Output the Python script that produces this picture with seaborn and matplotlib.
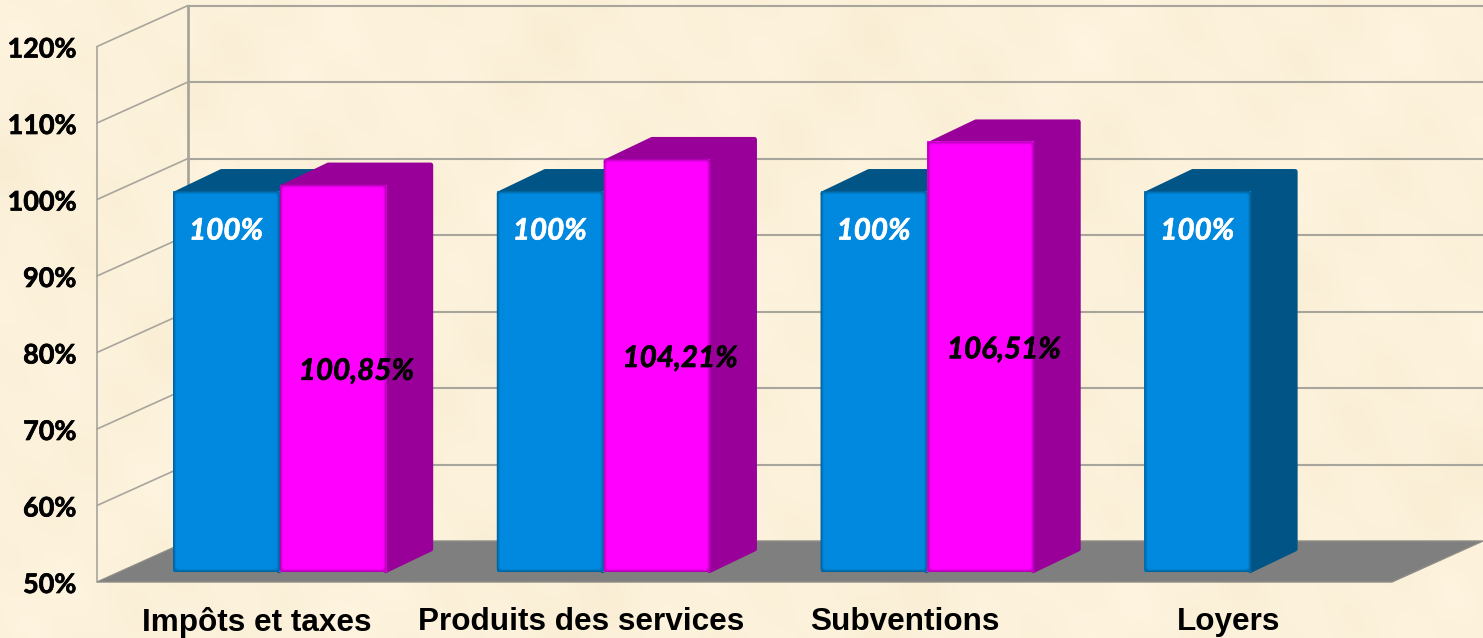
import numpy as np
import pandas as pd
import matplotlib
matplotlib.use("Agg")
import matplotlib.pyplot as plt
import matplotlib.patheffects as pe
import seaborn as sns
from matplotlib.patches import FancyBboxPatch, Polygon, Rectangle
from matplotlib.transforms import Affine2D, IdentityTransform
from matplotlib.colors import to_rgb

categories = ["Impôts et taxes", "Produits des services", "Subventions", "Loyers"]
series_names = ["Référence", "Réalisé"]
reference_values = [100, 100, 100, 100]
realised_values = [100.85, 104.21, 106.51, np.nan]
y_ticks = [50, 60, 70, 80, 90, 100, 110, 120]

BLUE, BLUE_DARK = "#0089DE", "#005586"
MAG, MAG_DARK = "#FF00FF", "#990099"
GRID = "#A8A59C"
W, H = 1483, 638

sns.set_theme(style="white")
plt.rcParams["font.family"] = ["Liberation Sans", "DejaVu Sans"]

fig = plt.figure(figsize=(W / 100, H / 100), dpi=100)

# parchment background (deterministic texture, not data)
bg = fig.add_axes([0, 0, 1, 1], zorder=0)
bg.axis("off")
yy, xx = np.mgrid[0:H // 4, 0:W // 4]
tex = (np.sin(xx * 0.071 + 1.3) * np.sin(yy * 0.093 + 0.4)
       + 0.7 * np.sin(xx * 0.163 + yy * 0.121)
       + 0.5 * np.sin(xx * 0.311 - yy * 0.257 + 2.1)
       + 0.4 * np.sin(xx * 0.027 - yy * 0.041))
tex = tex / np.abs(tex).max()
base = np.array([252, 241, 218], float)
amp = np.array([2.5, 3.5, 6.0])
img = np.clip(base[None, None, :] + tex[..., None] * amp, 0, 255) / 255
bg.imshow(img, aspect="auto", interpolation="bicubic")

# front plane of the chart
L, R, B, T = 97, 1392, 582, 46.5
ax = fig.add_axes([L / W, (H - B) / H, (R - L) / W, (B - T) / H], zorder=1)
ax.patch.set_alpha(0)

df = pd.DataFrame({
    "categorie": categories * 2,
    "serie": [series_names[0]] * 4 + [series_names[1]] * 4,
    "valeur": reference_values + realised_values,
})
sns.barplot(data=df, x="categorie", y="valeur", hue="serie", hue_order=series_names,
            palette=[BLUE, MAG], width=0.66, gap=0, saturation=1, legend=False,
            errorbar=None, ax=ax, order=categories)
ax.set_ylim(50, 120)
ax.set_xlim(-0.5, 3.5)
ax.set_yticks(y_ticks)
ax.set_yticklabels([f"{t}%" for t in y_ticks], family=["Lato", "DejaVu Sans"],
                   fontweight="bold", fontsize=19.4, color="black")
ax.set_xticks(range(len(categories)))
ax.set_xticklabels(categories, fontweight="bold", fontsize=22.7, color="black")
ax.tick_params(axis="y", length=0, pad=15)
ax.tick_params(axis="x", length=0, pad=18)
for lab in ax.get_xticklabels():
    lab.set_transform(lab.get_transform() + Affine2D().translate(-2, 0))
for lab in ax.get_yticklabels():
    lab.set_transform(lab.get_transform() + Affine2D().translate(0, -1))
    lab.set_path_effects([pe.withStroke(linewidth=0.5, foreground="black")])
ax.set_xlabel("")
ax.set_ylabel("")
sns.despine(ax=ax, left=True, bottom=True)
fig.canvas.draw()

to_px = ax.transData.transform
ident = IdentityTransform()
WALL_DX, WALL_DY = 91, 41

# walls and floor
p0, p1 = to_px((-0.5, 50)), to_px((3.5, 50))
wall = ax.transData + Affine2D().translate(WALL_DX, WALL_DY)
bars = [p for p in ax.patches if isinstance(p, Rectangle)
        and p.get_width() > 0 and np.isfinite(p.get_height()) and p.get_height() > 0]
bars.sort(key=lambda b: b.get_x())

ax.add_patch(Polygon([p0, p0 + [WALL_DX, WALL_DY], p1 + [WALL_DX, WALL_DY], p1],
                     closed=True, fc="#7F7F7F", ec="#8E8C86", lw=1, transform=ident,
                     zorder=1.2, clip_on=False))
for t in y_ticks:
    a = to_px((-0.5, t))
    if t > 50:
        ax.plot([-0.5, 3.5], [t, t], color=GRID, lw=1.5, transform=wall, zorder=1, clip_on=False)
        ax.plot([a[0], a[0] + WALL_DX], [a[1], a[1] + WALL_DY], color=GRID, lw=1.2,
                transform=ident, zorder=1, clip_on=False)
ax.plot([-0.5, -0.5], [50, 120], color=GRID, lw=1.2, zorder=1, clip_on=False)
ax.plot([-0.5, -0.5], [50, 120], color=GRID, lw=2, transform=wall, zorder=1, clip_on=False)

# bars: seaborn rectangles moved into the middle of the box depth, then given 3-D faces
BAR_DX, BAR_DY = 21, 10
DEPTH_DX, DEPTH_DY = 46.5, 22
y0_px = to_px((0, 50))[1]
bar_tf = Affine2D().translate(0, -y0_px).scale(1, 0.996).translate(BAR_DX, y0_px + BAR_DY)


def mix(c1, c2, f):
    return tuple(np.array(to_rgb(c1)) * (1 - f) + np.array(to_rgb(c2)) * f)


for i, b in enumerate(bars):
    is_blue = b.get_facecolor()[1] > 0.3
    main, dark = (BLUE, BLUE_DARK) if is_blue else (MAG, MAG_DARK)
    x, w = b.get_x(), b.get_width()
    top = b.get_y() + b.get_height()
    b.set_y(50)
    b.set_height(top - 50)
    (xl, yb), (xr, yt) = bar_tf.transform(to_px([(x, 50), (x + w, top)]))
    z = 2 + i * 0.1
    b.set_transform(ax.transData + bar_tf)
    b.set_zorder(z + 0.01)
    b.set_linewidth(0)
    b.set_clip_on(False)
    # depth faces
    ins = 2.5
    side = [(xl + ins, yt - ins), (xl + DEPTH_DX + 2, yt + DEPTH_DY - ins),
            (xr + DEPTH_DX - ins, yt + DEPTH_DY - ins), (xr + DEPTH_DX - ins, yb + DEPTH_DY + 1),
            (xr - 1, yb + 1.5), (xr - 1, yt - 1)]
    ax.add_patch(Polygon(side, closed=True, fc=dark, ec=dark, lw=3.6, joinstyle="round",
                         transform=ident, zorder=z, clip_on=False))
    # soft rounded front face
    for inset, f in [(0, 0.25), (1, 0.55), (2, 0.8), (3, 1.0)]:
        pad = 3
        ax.add_patch(FancyBboxPatch(
            (xl + inset + pad, yb + inset + pad),
            xr - xl - 2 * inset - 2 * pad, yt - yb - 2 * inset - 2 * pad,
            boxstyle=f"round,pad={pad},rounding_size={pad}",
            fc=mix(dark, main, f), ec="none", transform=ident,
            zorder=z + 0.02 + inset / 100, clip_on=False))
    # data labels
    cx = (xl + xr) / 2
    if is_blue:
        txt, col = "100%", "white"
        tx, ty = cx - 0.5, yt - 39.5
    else:
        txt = f"{top:.2f}".replace(".", ",") + "%"
        col = "black"
        tx, ty = cx + 23, (yt + yb) / 2 + 7.5
    ax.text(tx, ty, txt, transform=ident, ha="center", va="center", color=col,
            family=["Lato", "DejaVu Sans"], fontweight="bold", fontstyle="italic",
            fontsize=21.3, zorder=5, clip_on=False,
            path_effects=[pe.withStroke(linewidth=0.5, foreground=col)])

fig.savefig("out.png", dpi=100)
